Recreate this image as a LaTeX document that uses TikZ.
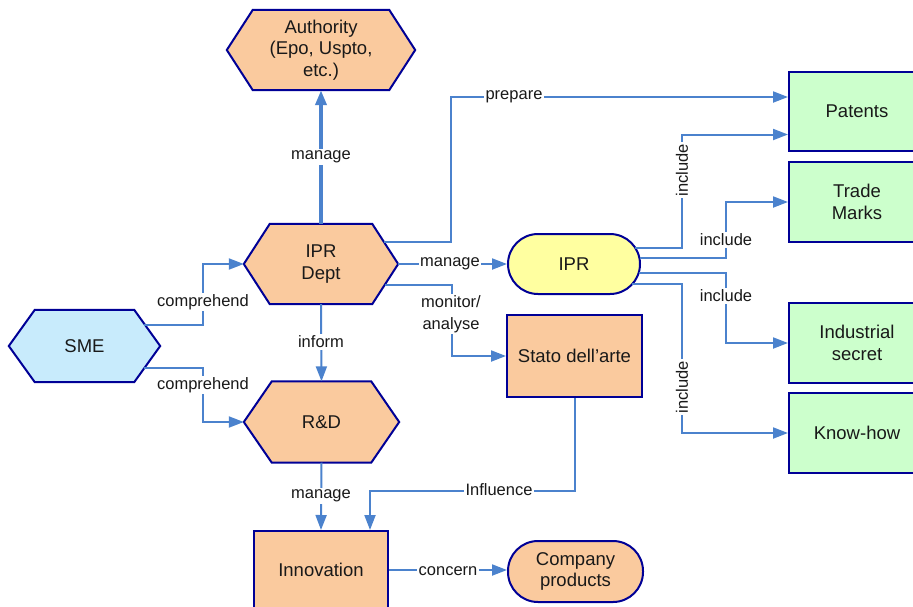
\documentclass[tikz,border=0pt]{standalone}
\usepackage{fontspec}
\setmainfont{Liberation Sans}
\usetikzlibrary{arrows.meta,calc}
\definecolor{navy}{RGB}{0,0,150}
\definecolor{linkblue}{RGB}{75,130,205}
\definecolor{peach}{RGB}{250,202,158}
\definecolor{skyfill}{RGB}{200,235,252}
\definecolor{mint}{RGB}{204,255,204}
\definecolor{lemon}{RGB}{255,255,160}
\definecolor{ink}{RGB}{25,25,25}
\pgfdeclarelayer{bg}
\pgfsetlayers{bg,main}
\newcommand\hexof[3]{%
  \begin{pgfonlayer}{bg}
  \draw[line width=2pt, draw=navy, fill=#3, line join=miter]
    (#1.west) -- ($(#1.north west)+(#2,0)$) -- ($(#1.north east)+(-#2,0)$)
    -- (#1.east) -- ($(#1.south east)+(-#2,0)$) -- ($(#1.south west)+(#2,0)$) -- cycle;
  \end{pgfonlayer}}
\begin{document}
\begin{tikzpicture}[x=1pt,y=-1pt,
  nodetext/.style={align=center, text=ink, font=\fontsize{18.5}{21.5}\selectfont, inner sep=0pt},
  hexnode/.style={nodetext, minimum width=#1},
  boxnode/.style={nodetext, draw=navy, line width=2pt},
  pill/.style={boxnode, rounded corners=30pt},
  conn/.style={draw=linkblue, line width=2pt, -{Triangle[length=15pt,width=11pt]}},
  lbl/.style={fill=white, text=ink, inner sep=1.5pt, align=center, font=\fontsize{16.5}{21.5}\selectfont}]
\useasboundingbox (0,0) rectangle (913,606);
\clip (0,0) rectangle (913,606);

% hexagon nodes
\node[hexnode=188, minimum height=80] (auth) at (321,50) {Authority\\(Epo, Uspto,\\etc.)};
\node[hexnode=154, minimum height=80] (dept) at (321,264) {IPR\\Dept};
\node[hexnode=155, minimum height=81] (rd) at (321.5,422) {R\&D};
\node[hexnode=151, minimum height=72] (sme) at (84.5,346) {SME};
\hexof{auth}{26}{peach}
\hexof{dept}{26}{peach}
\hexof{rd}{28}{peach}
\hexof{sme}{26}{skyfill}

% other nodes
\node[pill, fill=lemon, minimum width=132, minimum height=60] (ipr) at (574,264) {IPR};
\node[boxnode, fill=peach, minimum width=135, minimum height=82] (stato) at (574.5,356) {Stato dell’arte};
\node[boxnode, fill=peach, minimum width=134, minimum height=78] (innov) at (321,570) {Innovation};
\node[pill, fill=peach, minimum width=135, minimum height=61] (comp) at (575.5,571.5) {Company\\products};
\node[boxnode, fill=mint, minimum width=136, minimum height=79] (patents) at (857,111.5) {Patents};
\node[boxnode, fill=mint, minimum width=136, minimum height=80] (trade) at (857,202) {Trade\\Marks};
\node[boxnode, fill=mint, minimum width=136, minimum height=80] (indus) at (857,343) {Industrial\\secret};
\node[boxnode, fill=mint, minimum width=136, minimum height=80] (know) at (857,433) {Know-how};

% connectors
\draw[conn, line width=4pt] (dept.north) -- (auth.south);
\draw[conn] ($(dept.east)+(-14,-22)$) -- (451,242) |- ($(patents.west)+(0,-14.5)$);
\draw[conn] (dept.east) -- (ipr.west);
\draw[conn] ($(dept.east)+(-13,21)$) -- (452,285) |- (stato.west);
\draw[conn] (dept.south) -- (rd.north);
\draw[conn] ($(sme.east)+(-16,-21)$) -- (203,325) |- (dept.west);
\draw[conn] ($(sme.east)+(-16,22)$) -- (203,368) |- (rd.west);
\draw[conn] (rd.south) -- (innov.north);
\draw[conn] (stato.south) -- ++(0,93) -| ($(innov.north)+(49,0)$);
\draw[conn] (innov.east) -- (innov.east -| comp.west);
\draw[conn] ($(ipr.center)+(61,-16)$) -- (682,248) |- ($(patents.west)+(0,23)$);
\draw[conn] ($(ipr.center)+(65.5,-6)$) -- (726,258) |- (trade.west);
\draw[conn] ($(ipr.center)+(64.5,9)$) -- (726,273) |- (indus.west);
\draw[conn] ($(ipr.center)+(58,20)$) -- (682,284) |- (know.west);

% labels
\node[lbl] (l1) at (321,157) {manage};
\node[lbl] (l2) at (514,97) {prepare};
\node[lbl] (l3) at (450,264) {manage};
\node[lbl] (l4) at (451,314) {monitor/\\analyse};
\node[lbl] (l5) at (321,342) {inform};
\node[lbl] (l6) at (203,302) {comprehend};
\node[lbl] (l7) at (203,385) {comprehend};
\node[lbl] (l8) at (321,496) {manage};
\node[lbl] (l9) at (499,490) {Influence};
\node[lbl] (l10) at (448,571) {concern};
\node[lbl, rotate=90] (l11) at (682,170) {include};
\node[lbl] (l12) at (726,240) {include};
\node[lbl] (l13) at (726,296) {include};
\node[lbl, rotate=90] (l14) at (682,387) {include};
\end{tikzpicture}
\end{document}
